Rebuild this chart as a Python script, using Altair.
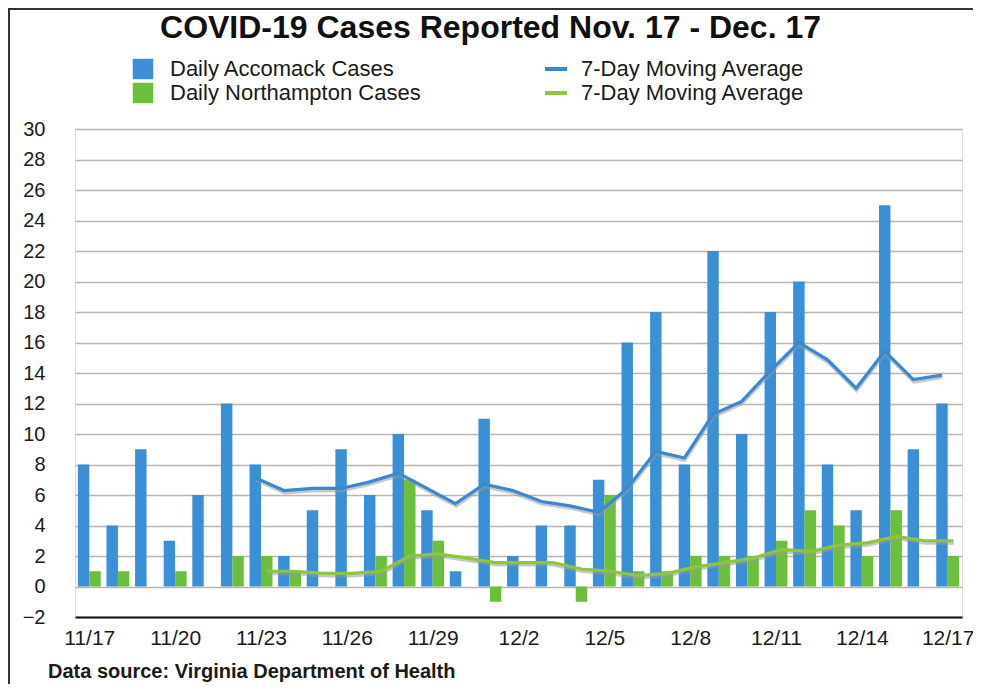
import json
import altair as alt
import pandas as pd

# ---------------- data ----------------
accomack = [8, 4, 9, 3, 6, 12, 8, 2, 5, 9, 6, 10, 5, 1, 11, 2,
            4, 4, 7, 16, 18, 8, 22, 10, 18, 20, 8, 5, 25, 9, 12]
northampton = [1, 1, 0, 1, 0, 2, 2, 1, 0, 0, 2, 7, 3, 0, -1, 0,
               0, -1, 6, 1, 1, 2, 2, 2, 3, 5, 4, 2, 5, 0, 2]
# 7-day moving averages, drawn from 11/23 (day 6) on
ma_days = list(range(6, 31))
accomack_ma = [7.14, 6.29, 6.43, 6.43, 6.86, 7.43, 6.43, 5.43, 6.71, 6.29,
               5.57, 5.29, 4.86, 6.43, 8.86, 8.43, 11.29, 12.14, 14.14, 16.0,
               14.86, 13.0, 15.43, 13.57, 13.86]
northampton_ma = [1.0, 1.0, 0.86, 0.86, 1.0, 2.0, 2.14, 1.86, 1.57, 1.57,
                  1.57, 1.14, 1.0, 0.71, 0.86, 1.29, 1.57, 1.86, 2.43, 2.29,
                  2.71, 2.86, 3.29, 3.0, 3.0]
tick_values = list(range(0, 31, 3))
tick_labels = ["11/17", "11/20", "11/23", "11/26", "11/29", "12/2",
               "12/5", "12/8", "12/11", "12/14", "12/17"]
y_ticks = list(range(-2, 31, 2))
bar_series = ["Daily Accomack Cases", "Daily Northampton Cases"]
line_series = ["Accomack 7-Day Moving Average", "Northampton 7-Day Moving Average"]
title_text = "COVID-19 Cases Reported Nov. 17 - Dec. 17"
source_text = "Data source: Virginia Department of Health"

# ---------------- styling ----------------
FONT = "Liberation Sans, Arial, Helvetica, sans-serif"
BAR_COLORS = ["#3b8fd6", "#6bbf3c"]
LINE_COLORS = ["#3a88cf", "#8cc63f"]

n_days = len(accomack)
bars_df = pd.DataFrame({
    "day": list(range(n_days)) * 2,
    "county": [bar_series[0]] * n_days + [bar_series[1]] * n_days,
    "cases": accomack + northampton,
})
ma_df = pd.DataFrame({
    "day": ma_days * 2,
    "series": [line_series[0]] * len(ma_days) + [line_series[1]] * len(ma_days),
    "avg": accomack_ma + northampton_ma,
})

x_scale = alt.Scale(domain=[-0.5, n_days - 0.5], nice=False, zero=False)
y_scale = alt.Scale(domain=[-2, 30], nice=False, zero=False)

x_axis = alt.Axis(
    values=tick_values,
    labelExpr=f"{json.dumps(tick_labels)}[round(datum.value / 3)]",
    grid=False, ticks=False, domainColor="#111111", domainWidth=2,
    labelFont=FONT, labelFontSize=21, labelColor="#1a1a1a", labelPadding=10,
    labelOverlap=False, title=None,
)
y_axis = alt.Axis(
    values=y_ticks,
    grid=True, gridColor="#bdb5b1", gridWidth=1.6,
    domain=False, ticks=False, labelOverlap=False,
    labelFont=FONT, labelFontSize=20, labelColor="#1a1a1a", labelPadding=30,
    title=None,
)

bars = alt.Chart(bars_df).transform_calculate(
    x1=f"datum.day + (datum.county == '{bar_series[0]}' ? -0.4 : 0)",
    x2=f"datum.day + (datum.county == '{bar_series[0]}' ? 0 : 0.4)",
).mark_bar(strokeWidth=0).encode(
    x=alt.X("x1:Q", scale=x_scale, axis=x_axis),
    x2="x2:Q",
    y=alt.Y("cases:Q", scale=y_scale, axis=y_axis),
    y2=alt.datum(0),
    fill=alt.Fill(
        "county:N",
        scale=alt.Scale(domain=bar_series, range=BAR_COLORS),
        legend=alt.Legend(
            orient="none", legendX=57, legendY=-71, title=None,
            symbolType="square", symbolSize=420, symbolStrokeWidth=0,
            labelFont=FONT, labelFontSize=22, labelColor="#1a1a1a",
            labelLimit=400, labelOffset=16, rowPadding=2, padding=0,
        ),
    ),
)

line_base = alt.Chart(ma_df).transform_calculate(
    xl=f"datum.day + (datum.series == '{line_series[0]}' ? -0.2 : 0.2)"
)

shadow = line_base.mark_line(
    color="#9a9a9a", opacity=0.55, strokeWidth=3, yOffset=2.5, xOffset=0.5
).encode(
    x=alt.X("xl:Q", scale=x_scale, axis=x_axis),
    y=alt.Y("avg:Q", scale=y_scale, axis=y_axis),
    detail="series:N",
)

lines = line_base.mark_line(strokeWidth=3.2).encode(
    x=alt.X("xl:Q", scale=x_scale, axis=x_axis),
    y=alt.Y("avg:Q", scale=y_scale, axis=y_axis),
    stroke=alt.Stroke(
        "series:N",
        scale=alt.Scale(domain=line_series, range=LINE_COLORS),
        legend=alt.Legend(
            orient="none", legendX=468, legendY=-73, title=None,
            symbolType="stroke", symbolSize=484, symbolStrokeWidth=4,
            labelExpr="'7-Day Moving Average'",
            labelFont=FONT, labelFontSize=22, labelColor="#1a1a1a",
            labelLimit=400, labelOffset=12, rowPadding=0, padding=0,
        ),
    ),
)

source = alt.Chart(pd.DataFrame({"t": [source_text]})).mark_text(
    align="left", baseline="middle", font=FONT, fontSize=20,
    fontWeight="bold", color="#1a1a1a",
).encode(x=alt.value(-27), y=alt.value(543), text="t:N")

frame_left = alt.Chart(pd.DataFrame({"k": [0]})).mark_rule(
    color="#333333", strokeWidth=2
).encode(x=alt.value(-66), y=alt.value(-120), y2=alt.value(555))
frame_top = alt.Chart(pd.DataFrame({"k": [0]})).mark_rule(
    color="#333333", strokeWidth=2
).encode(x=alt.value(-67), x2=alt.value(898), y=alt.value(-120))

chart = alt.layer(frame_left, frame_top, bars, shadow, lines, source).properties(
    width=887, height=488,
    title=alt.TitleParams(
        title_text, font=FONT, fontSize=32, fontWeight="bold",
        color="#111111", anchor="middle", baseline="alphabetic",
        offset=-62, dx=-28,
    ),
    autosize=alt.AutoSizeParams(type="none"),
    padding={"left": 67, "top": 121, "right": 11, "bottom": 67},
).configure_view(stroke=None).configure(background="white")

chart.save("out.html", embed_options={"renderer": "svg", "actions": False})
